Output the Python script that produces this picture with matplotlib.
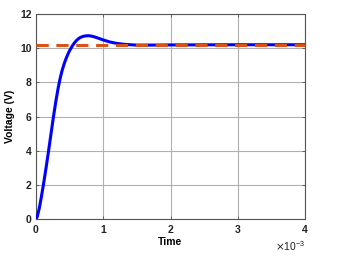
import numpy as np
import matplotlib.pyplot as plt
from matplotlib.ticker import ScalarFormatter

# step response (time in ms, voltage in V)
t_ms = [0, 0.02, 0.05, 0.08, 0.11, 0.15, 0.18, 0.22, 0.26, 0.3, 0.33,
        0.36, 0.39, 0.42, 0.45, 0.48, 0.51, 0.54, 0.57, 0.6, 0.63, 0.66,
        0.7, 0.74, 0.78, 0.82, 0.86, 0.9, 0.95, 1.0, 1.05, 1.1, 1.2, 1.3,
        1.4, 1.5, 1.7, 2.0, 3.0, 4.0]
voltage = [0, 0.15, 0.65, 1.3, 2.0, 3.0, 3.8, 4.9, 6.0, 7.0, 7.68,
           8.25, 8.72, 9.1, 9.42, 9.7, 9.93, 10.13, 10.3, 10.44, 10.55, 10.63,
           10.69, 10.72, 10.73, 10.71, 10.67, 10.62, 10.55, 10.48, 10.42, 10.36, 10.28, 10.23,
           10.2, 10.18, 10.18, 10.19, 10.2, 10.2]
reference = 10.2

t = np.array(t_ms) * 1e-3

plt.rcParams['font.family'] = ['Liberation Sans', 'DejaVu Sans']
fig = plt.figure(figsize=(3.4, 2.64), dpi=100)
ax = fig.add_axes([36/340, 45/264, 269/340, 205/264])

ax.plot(t, voltage, color='#0000ff', linewidth=2.2, zorder=3)
ax.axhline(reference, color='#d95319', linewidth=2.2, linestyle=(0, (4, 2.5)), zorder=4)

ax.set_xlim(0, 4e-3)
ax.set_ylim(0, 12)
ax.set_xticks(np.arange(0, 4.1e-3, 1e-3))
ax.set_yticks(np.arange(0, 13, 2))

fmt = ScalarFormatter(useMathText=True)
fmt.set_powerlimits((-2, 2))
ax.xaxis.set_major_formatter(fmt)
ax.xaxis.get_offset_text().set_fontsize(7.5)

ax.grid(True, color='#b0b0b0', linewidth=0.8)
ax.set_axisbelow(True)
for s in ax.spines.values():
    s.set_color('#555555')
    s.set_linewidth(0.8)
ax.tick_params(direction='in', length=2, width=0.6, colors='#555555',
               labelsize=7.5, labelcolor='#222222', top=True, right=True, pad=3)
for lab in ax.get_xticklabels() + ax.get_yticklabels():
    lab.set_fontweight('bold')

ax.set_xlabel('Time', fontsize=7.5, fontweight='bold', labelpad=1)
ax.set_ylabel('Voltage (V)', fontsize=7.5, fontweight='bold', labelpad=4)

fig.savefig('out.png', dpi=100)
